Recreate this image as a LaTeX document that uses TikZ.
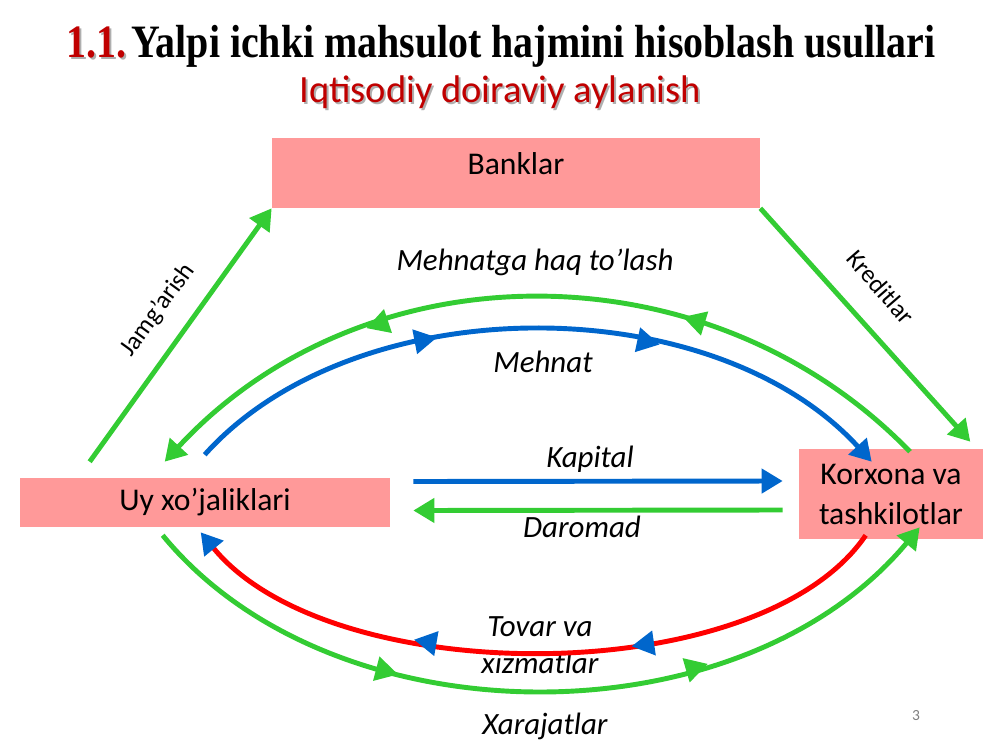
\documentclass[tikz,border=0pt]{standalone}
\usepackage{fontspec,graphicx}
\setmainfont{Carlito}
\newfontfamily\titlefont{Liberation Serif}
\usetikzlibrary{arrows.meta,calc,positioning,decorations.markings}
\definecolor{boxpink}{RGB}{255,153,153}
\definecolor{flowgreen}{RGB}{51,204,51}
\definecolor{flowblue}{RGB}{0,102,204}
\definecolor{flowred}{RGB}{255,0,0}
\definecolor{titlered}{RGB}{192,0,0}
\definecolor{shade}{RGB}{175,175,175}

\begin{document}
\begin{tikzpicture}[x=0.025cm,y=-0.025cm,>=Latex,
  flow/.style={line width=3.5pt,-{Triangle[length=15pt,width=17pt]}},
  box/.style={fill=boxpink,inner sep=0pt,font=\fontsize{22.5}{28.4}\selectfont,align=center},
  ann/.style={font=\itshape\fontsize{22}{26.3}\selectfont,align=center},
  slant/.style={font=\fontsize{18}{21}\selectfont},
  heading/.style={font=\titlefont\bfseries\fontsize{33}{38}\selectfont},
  midtips/.style n args={3}{postaction={decorate},decoration={markings,
    mark=at position #1 with {\fill[#3] (8pt,0pt)--(-8pt,9pt)--(-8pt,-9pt)--cycle;},
    mark=at position #2 with {\fill[#3] (8pt,0pt)--(-8pt,9pt)--(-8pt,-9pt)--cycle;}}}]
\useasboundingbox (0,0) rectangle (1000,750);
\node[heading,text=shade] (titleshade) at (503,48)
  {\scalebox{0.86}[1]{1.1.\hspace{0.12em}\phantom{Yalpi ichki mahsulot hajmini hisoblash usullari}}};
\node[heading] (title) at (501,46)
  {\scalebox{0.86}[1]{\textcolor{titlered}{1.1.}\hspace{0.12em}Yalpi ichki mahsulot hajmini hisoblash usullari}};
\node[font=\fontsize{27.4}{32}\selectfont,text=shade] (subshade) at (502,94)
  {Iqtisodiy doiraviy aylanish};
\node[font=\fontsize{27.4}{32}\selectfont,text=titlered] (subtitle) at (500,92)
  {Iqtisodiy doiraviy aylanish};
\node[box,minimum width=12.2cm,minimum height=1.75cm,text height=16pt,text depth=13.8pt] (bank) at (516,173) {Banklar};
\node[box,minimum width=9.25cm,minimum height=1.225cm] (uy) at (205,502.5) {Uy xo’jaliklari};
\node[box,minimum width=4.6cm,minimum height=2.25cm] (korx) at (891,494) {Korxona va\\tashkilotlar};
\node[ann] (mehnathaq) at (535,262) {Mehnatga haq to’lash};
\node[ann] (mehnat) at (543,362) {Mehnat};
\node[ann] (kapital) at (590,459) {Kapital};
\node[ann] (daromad) at (582,527) {Daromad};
\node[ann] (tovar) at (540,645) {Tovar va\\xizmatlar};
\node[ann] (xarajat) at (545,726) {Xarajatlar};
\node[slant,rotate=54] (jamg) at (158,310) {Jamg’arish};
\node[slant,rotate=-49] (kredit) at (881,287) {Kreditlar};
\node[text=gray,font=\fontsize{11}{13}\selectfont] (pagenum) at (916,716) {3};
\draw[flow,flowgreen] ($(uy.north west)+(70,-16)$) -- (bank.south west);
\draw[flow,flowgreen] (bank.south east) -- ($(korx.north east)+(-13,-7)$);
\draw[flow,flowgreen,midtips={.307}{.693}{flowgreen}] ($(korx.north)+(19,3)$)
  .. controls (710,245) and (365,245) .. ($(uy.north west)+(145,-16)$);
\draw[flow,flowblue,midtips={.345}{.65}{flowblue}] ($(uy.north west)+(185,-23)$)
  .. controls (355,287) and (712,287) .. ($(korx.north west)+(73,13)$);
\draw[flow,flowblue] ($(uy.east)+(23,-21)$) -- ($(korx.west)+(-16,-13)$);
\draw[flow,flowgreen] ($(korx.west)+(-16,16)$) -- ($(uy.east)+(23,8)$);
\draw[line width=3.5pt,flowred,-{Triangle[length=15pt,width=17pt,color=flowblue]},midtips={.35}{.65}{flowblue}]
  ($(korx.south west)+(67,-4)$) .. controls (760,691) and (330,691) .. ($(uy.south west)+(181,5)$);
\draw[flow,flowgreen,midtips={.315}{.685}{flowgreen}] ($(uy.south west)+(143,8)$)
  .. controls (333,743) and (740,743) .. ($(korx.south west)+(121,-12)$);
\end{tikzpicture}
\end{document}
